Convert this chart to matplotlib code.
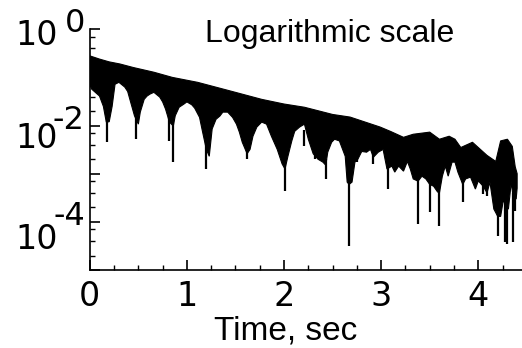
import numpy as np
import matplotlib
matplotlib.use('Agg')
import matplotlib.pyplot as plt
from matplotlib.ticker import MultipleLocator, LogLocator, NullFormatter

plt.rcParams['font.family'] = ['Liberation Sans', 'DejaVu Sans']

# upper edge of the dense band (time s, amplitude)
t_up = [0.00, 0.10, 0.20, 0.31, 0.45, 0.66, 0.85, 1.11, 1.42, 1.77, 2.00, 2.21,
        2.50, 2.68, 2.99, 3.10, 3.23, 3.33, 3.50, 3.60, 3.70, 3.76, 3.82, 3.94,
        4.09, 4.18, 4.23, 4.30, 4.35, 4.38, 4.40]
v_up = [0.28, 0.24, 0.21, 0.19, 0.16, 0.128, 0.10, 0.079, 0.054, 0.035, 0.028, 0.024,
        0.017, 0.015, 0.0093, 0.0075, 0.0057, 0.0066, 0.0073, 0.0052, 0.006, 0.0052, 0.0035, 0.0045,
        0.0024, 0.0018, 0.0048, 0.0052, 0.0037, 0.0014, 0.0010]

# lower edge of the dense band
t_lo = [0.00, 0.02, 0.10, 0.14, 0.17, 0.20, 0.23, 0.26, 0.30, 0.36, 0.39, 0.42,
        0.46, 0.50, 0.52, 0.56, 0.59, 0.62, 0.66, 0.72, 0.75, 0.78, 0.82, 0.86,
        0.88, 0.92, 0.97, 1.00, 1.05, 1.08, 1.13, 1.16, 1.20, 1.23, 1.26, 1.30,
        1.34, 1.37, 1.42, 1.47, 1.51, 1.54, 1.57, 1.62, 1.65, 1.68, 1.72, 1.77,
        1.82, 1.87, 1.93, 1.98, 2.01, 2.04, 2.08, 2.11, 2.16, 2.21, 2.25, 2.30,
        2.35, 2.40, 2.43, 2.45, 2.49, 2.52, 2.57, 2.63, 2.65, 2.67, 2.70, 2.73,
        2.76, 2.80, 2.85, 2.89, 2.92, 2.97, 3.02, 3.06, 3.11, 3.14, 3.18, 3.23,
        3.27, 3.30, 3.33, 3.38, 3.42, 3.46, 3.50, 3.54, 3.58, 3.60, 3.63, 3.66,
        3.69, 3.73, 3.76, 3.79, 3.84, 3.87, 3.92, 3.97, 4.00, 4.05, 4.09, 4.12,
        4.16, 4.20, 4.23, 4.26, 4.28, 4.31, 4.34, 4.36, 4.39, 4.40]
v_lo = [0.07, 0.057, 0.041, 0.025, 0.0118, 0.012, 0.025, 0.072, 0.079, 0.063, 0.051, 0.031,
        0.016, 0.0107, 0.019, 0.035, 0.041, 0.045, 0.049, 0.039, 0.031, 0.022, 0.0118, 0.0098,
        0.016, 0.024, 0.028, 0.031, 0.027, 0.023, 0.0148, 0.0076, 0.0032, 0.0023, 0.0085, 0.0135,
        0.0158, 0.019, 0.019, 0.0148, 0.0107, 0.0073, 0.0045, 0.0026, 0.0032, 0.006, 0.0093, 0.0118,
        0.0107, 0.006, 0.0032, 0.0016, 0.00125, 0.0023, 0.0048, 0.0076, 0.0093, 0.0107, 0.0052, 0.0026,
        0.002, 0.00174, 0.0015, 0.0028, 0.0045, 0.0052, 0.0048, 0.0023, 0.00067, 0.0006, 0.00067, 0.00174,
        0.002, 0.0029, 0.0028, 0.0032, 0.0022, 0.0028, 0.0032, 0.00125, 0.00144, 0.00108, 0.00144, 0.00113,
        0.0018, 0.00125, 0.00078, 0.0007, 0.00089, 0.00078, 0.0006, 0.00055, 0.00042, 0.0004, 0.00089, 0.00144,
        0.00089, 0.00174, 0.00174, 0.00108, 0.0006, 0.00078, 0.00085, 0.00048, 0.00071, 0.00055, 0.0004, 0.00067,
        0.000185, 0.00013, 0.00013, 0.0003, 0.0002, 0.000185, 0.00067, 0.0003, 0.0003, 0.0005]

# deep narrow dips below the band
spike_t = [0.18, 0.48, 0.82, 0.86, 1.20, 1.62, 2.01, 2.21, 2.32, 2.43, 2.67, 2.75,
           2.92, 3.07, 3.38, 3.50, 3.60, 3.84, 4.05, 4.09, 4.20, 4.28, 4.30, 4.36, 4.38]
spike_lo = [4.5e-3, 5.2e-3, 4.8e-3, 1.74e-3, 1.25e-3, 2.0e-3, 4.4e-4, 3.7e-3, 2.0e-3, 7.8e-4, 3.2e-5, 1.74e-3,
            1.6e-3, 4.8e-4, 8.9e-5, 1.6e-4, 8.2e-5, 2.6e-4, 3.8e-4, 3.5e-4, 5.1e-5, 3.8e-5, 3.5e-5, 3.8e-5, 1.7e-4]
spike_hi = [0.02, 0.02, 0.015, 0.015, 0.005, 0.005, 0.002, 0.008, 0.004, 0.002, 0.001, 0.003,
            0.003, 0.002, 0.001, 0.001, 0.001, 0.001, 0.001, 0.001, 0.0003, 0.0003, 0.0003, 0.0004, 0.0005]

xticks = [0, 1, 2, 3, 4]
ylabel_dec = [1e0, 1e-2, 1e-4]
ylabel_sup = ['0', '-2', '-4']

fig = plt.figure(figsize=(5.22, 3.48), dpi=100)
ax = fig.add_axes([0.172, 0.224, 0.828, 0.692])

ax.fill(np.r_[t_up, t_lo[::-1]], np.r_[v_up, v_lo[::-1]], color='black', lw=0.8)
ax.vlines(spike_t, spike_lo, spike_hi, color='black', lw=1.6)

ax.set_yscale('log')
ax.set_xlim(0, 4.45)
ax.set_ylim(1e-5, 1)

for s in ['top', 'right']:
    ax.spines[s].set_visible(False)
for s in ['left', 'bottom']:
    ax.spines[s].set_linewidth(1.2)

ax.set_xticks(xticks)
ax.xaxis.set_minor_locator(MultipleLocator(0.25))
ax.tick_params(axis='x', which='major', direction='in', length=7, width=1.2,
               labelsize=24, pad=7)
ax.tick_params(axis='x', which='minor', direction='in', length=3.5, width=1.0)
for lab in ax.get_xticklabels():
    lab.set_family('DejaVu Sans')

ax.yaxis.set_major_locator(LogLocator(base=10, numticks=10))
ax.yaxis.set_minor_locator(LogLocator(base=10, subs=(2, 4, 7), numticks=10))
ax.yaxis.set_major_formatter(NullFormatter())
ax.yaxis.set_minor_formatter(NullFormatter())
ax.tick_params(axis='y', which='major', direction='in', length=7, width=1.2)
ax.tick_params(axis='y', which='minor', direction='in', length=3.5, width=1.0)

# y labels drawn as "10" plus a large raised exponent
base_drop = [-16, -22, -27]
for val, sup, dy in zip(ylabel_dec, ylabel_sup, base_drop):
    ax.annotate('10', xy=(0, val), xycoords=('axes fraction', 'data'),
                xytext=(-32, dy), textcoords='offset pixels', family='DejaVu Sans',
                ha='right', va='baseline', fontsize=24, annotation_clip=False)
    ax.annotate(sup, xy=(0, val), xycoords=('axes fraction', 'data'),
                xytext=(-5, -3), textcoords='offset pixels', family='DejaVu Sans',
                ha='right', va='baseline', fontsize=23, annotation_clip=False)

fig.text(0.632, 0.879, 'Logarithmic scale', ha='center', va='baseline', fontsize=23)
fig.text(0.548, 0.023, 'Time, sec', ha='center', va='baseline', fontsize=24)

plt.savefig('out.png', dpi=100)
